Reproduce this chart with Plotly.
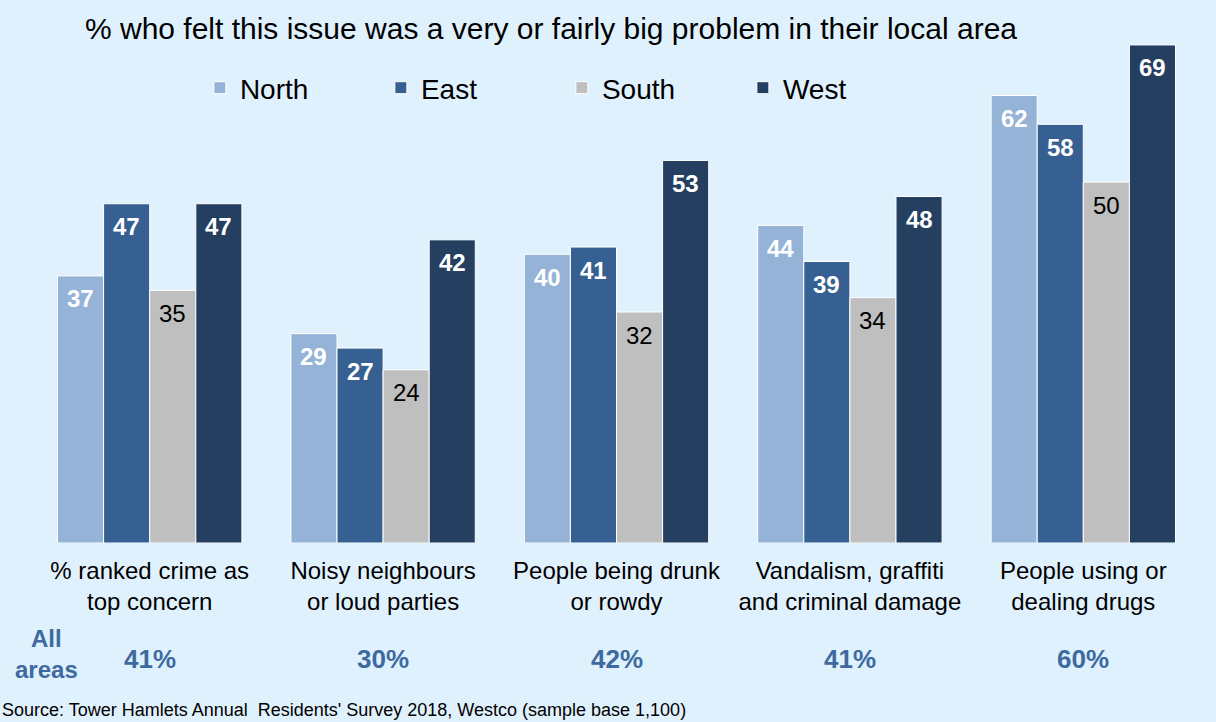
import plotly.graph_objects as go

# Survey issues and results by area
issues = [
    "% ranked crime as<br>top concern",
    "Noisy neighbours<br>or loud parties",
    "People being drunk<br>or rowdy",
    "Vandalism, graffiti<br>and criminal damage",
    "People using or<br>dealing drugs",
]
areas = ["North", "East", "South", "West"]
north = [37, 29, 40, 44, 62]
east = [47, 27, 41, 39, 58]
south = [35, 24, 32, 34, 50]
west = [47, 42, 53, 48, 69]
all_areas = ["41%", "30%", "42%", "41%", "60%"]

series = [north, east, south, west]
colors = ["#95b3d7", "#366092", "#bfbfbf", "#243f60"]
label_colors = ["white", "white", "black", "white"]
label_bold = [True, True, False, True]

BG = "#e0f1fe"
ACCENT = "#3d6a9f"
FONT = "Liberation Sans, Arial, sans-serif"
BARGAP = 0.21

W, H = 1216, 722
ML, MR, MT, MB = 33, 16, 37, 179
PW, PH = W - ML - MR, H - MT - MB

fig = go.Figure()
for name, vals, col in zip(areas, series, colors):
    fig.add_trace(go.Bar(
        x=list(range(len(issues))), y=vals, name=name,
        marker=dict(color=col, line=dict(color="white", width=1)),
        hoverinfo="x+y+name",
    ))

# value labels just inside the top of each bar
n = len(areas)
bw = (1 - BARGAP) / n
annotations = []
for k, (vals, tc, bold) in enumerate(zip(series, label_colors, label_bold)):
    off = -(1 - BARGAP) / 2 + bw * (k + 0.5)
    for i, v in enumerate(vals):
        annotations.append(dict(
            x=i + off, y=v, xref="x", yref="y", showarrow=False,
            text=f"<b>{v}</b>" if bold else str(v),
            yanchor="middle", yshift=-23,
            font=dict(size=24, color=tc, family=FONT),
        ))

# "All areas" totals row
for i, t in enumerate(all_areas):
    annotations.append(dict(
        x=i, y=0, xref="x", yref="paper", showarrow=False,
        text=f"<b>{t}</b>", yanchor="middle", yshift=-(659 - (MT + PH)),
        font=dict(size=26, color=ACCENT, family=FONT),
    ))
annotations.append(dict(
    x=(46 - ML) / PW, y=0, xref="paper", yref="paper", showarrow=False,
    text="<b>All<br>areas</b>", yanchor="middle", xanchor="center",
    yshift=-(654 - (MT + PH)),
    font=dict(size=24, color=ACCENT, family=FONT),
))

# source note
annotations.append(dict(
    x=0, y=0, xref="paper", yref="paper", xanchor="left", yanchor="middle",
    xshift=-ML, yshift=-(710 - (MT + PH)), showarrow=False,
    text="Source: Tower Hamlets Annual  Residents' Survey 2018, Westco (sample base 1,100)",
    font=dict(size=18, color="black", family=FONT),
))

fig.update_layout(
    width=W, height=H,
    paper_bgcolor=BG, plot_bgcolor=BG,
    margin=dict(l=ML, r=MR, t=MT, b=MB),
    barmode="group", bargap=BARGAP, bargroupgap=0,
    font=dict(family=FONT, color="black"),
    title=dict(
        text="% who felt this issue was a very or fairly big problem in their local area",
        x=551 / W, xanchor="center", y=1 - 28 / H, yanchor="middle",
        font=dict(size=30, color="black", family=FONT),
    ),
    legend=dict(
        orientation="h", x=0.143, xanchor="left",
        y=1 - (88 - MT) / PH, yanchor="middle",
        entrywidth=136, entrywidthmode="pixels",
        font=dict(size=28, color="black", family=FONT),
        bgcolor="rgba(0,0,0,0)", traceorder="normal",
    ),
    xaxis=dict(
        tickmode="array", tickvals=list(range(len(issues))), ticktext=issues,
        range=[-0.5, len(issues) - 0.5], showgrid=False, zeroline=False,
        showline=False, ticks="", ticklabelstandoff=11,
        tickfont=dict(size=24, color="black", family=FONT),
    ),
    yaxis=dict(range=[0, 70.1], visible=False, showgrid=False, zeroline=False),
    annotations=annotations,
    showlegend=True,
)

fig.write_html("out.html")
